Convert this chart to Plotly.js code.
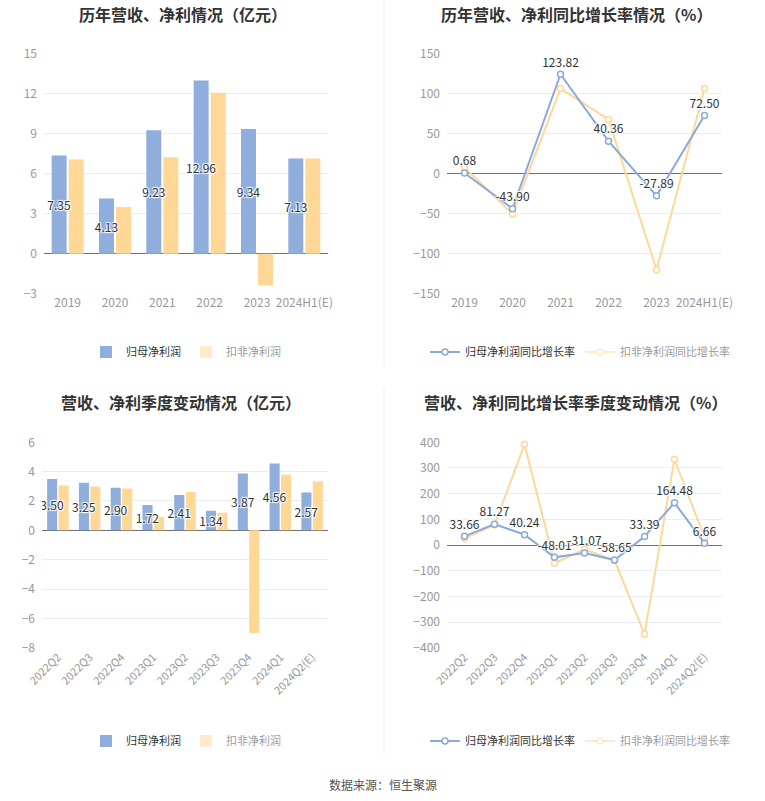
<!DOCTYPE html>
<html>
<head>
<meta charset="utf-8">
<script src="https://cdn.plot.ly/plotly-3.0.1.min.js"></script>
<style>html,body{margin:0;padding:0;background:#fff;}#chart{width:765px;height:801px;}</style>
</head>
<body>
<div id="chart"></div>
<script>
// ---- data ----
const yearCats = ['2019', '2020', '2021', '2022', '2023', '2024H1(E)'];
const yearNetProfit = [7.35, 4.13, 9.23, 12.96, 9.34, 7.13];          // 归母净利润 (亿元)
const yearDeductedProfit = [7.05, 3.49, 7.21, 12.04, -2.39, 7.12];     // 扣非净利润 (亿元)
const yearNetGrowth = [0.68, -43.90, 123.82, 40.36, -27.89, 72.50];     // 归母净利润同比增长率 (%)
const yearDeductedGrowth = [7.5, -50.5, 106, 67.5, -120, 106];          // 扣非净利润同比增长率 (%)

const quarterCats = ['2022Q2', '2022Q3', '2022Q4', '2023Q1', '2023Q2', '2023Q3', '2023Q4', '2024Q1', '2024Q2(E)'];
const quarterNetProfit = [3.50, 3.25, 2.90, 1.72, 2.41, 1.34, 3.87, 4.56, 2.57];
const quarterDeductedProfit = [3.06, 2.99, 2.85, 0.92, 2.61, 1.19, -7.0, 3.78, 3.35];
const quarterNetGrowth = [33.66, 81.27, 40.24, -48.01, -31.07, -58.65, 33.39, 164.48, 6.66];
const quarterDeductedGrowth = [26, 78, 392, -71, -17, -60, -347, 334, 29];

const names = { net: '归母净利润', ded: '扣非净利润', netG: '归母净利润同比增长率', dedG: '扣非净利润同比增长率' };
const titles = ['历年营收、净利情况（亿元）', '历年营收、净利同比增长率情况（%）', '营收、净利季度变动情况（亿元）', '营收、净利同比增长率季度变动情况（%）'];
const source = '数据来源：恒生聚源';

// ---- style ----
const W = 765, H = 801;
const BLUE = '#8FAEDC', ORANGE = '#FFD898';
const LBLUE = '#8AAAD9', LORANGE = '#FFD899';
const FONT = 'Noto Sans CJK SC, Microsoft YaHei, sans-serif';
const GRID = '#E9EDF5', AXIS = '#6E7079', TICKC = '#999999';
const fx = p => p / W, fy = p => 1 - p / H;

const dom = {
  TLx: [fx(44), fx(328)], TRx: [fx(447), fx(722)], BLx: [fx(42), fx(328)], BRx: [fx(447), fx(722)],
  topY: [fy(293.7), fy(53.3)], botY: [fy(647.7), fy(442.3)]
};
const ranges = { TL: [-3, 15], TR: [-150, 150], BL: [-8, 6], BR: [-400, 400] };
const dticks = { TL: 3, TR: 50, BL: 2, BR: 100 };

const labelFont = { family: FONT, size: 12, color: '#333', shadow: '1px 1px 1px #fff, -1px -1px 1px #fff, 1px -1px 1px #fff, -1px 1px 1px #fff' };

function barPair(cats, a, b, xa, ya, lg) {
  return [
    { type: 'bar', x: cats, y: a, xaxis: xa, yaxis: ya, name: names.net, legend: lg, marker: { color: BLUE }, zorder: 2,
      texttemplate: '%{y:.2f}', textposition: 'inside', insidetextanchor: 'middle', constraintext: 'none', textangle: 0,
      textfont: labelFont, cliponaxis: false },
    { type: 'bar', x: cats, y: b, xaxis: xa, yaxis: ya, name: names.ded, legend: lg, showlegend: false, marker: { color: ORANGE }, zorder: 1 },
    { type: 'bar', x: [null], y: [null], xaxis: xa, yaxis: ya, name: names.ded, legend: lg, visible: 'legendonly', marker: { color: ORANGE } }
  ];
}
function linePair(cats, a, b, xa, ya, lg) {
  const mk = c => ({ symbol: 'circle', size: 6, color: '#fff', line: { color: c, width: 1.5 } });
  return [
    { type: 'scatter', mode: 'lines+markers', x: cats, y: b, xaxis: xa, yaxis: ya, name: names.dedG, legend: lg, showlegend: false,
      line: { color: LORANGE, width: 2 }, marker: mk(LORANGE), cliponaxis: false },
    { type: 'scatter', mode: 'lines+markers+text', x: cats, y: a, xaxis: xa, yaxis: ya, name: names.netG, legend: lg, legendrank: 1,
      line: { color: LBLUE, width: 2 }, marker: mk(LBLUE), texttemplate: '%{y:.2f}', textposition: 'top center',
      textfont: labelFont, cliponaxis: false },
    { type: 'scatter', mode: 'lines+markers', x: [null], y: [null], xaxis: xa, yaxis: ya, name: names.dedG, legend: lg, legendrank: 2,
      visible: 'legendonly', line: { color: LORANGE, width: 2 }, marker: mk(LORANGE) }
  ];
}

const data = [].concat(
  barPair(yearCats, yearNetProfit, yearDeductedProfit, 'x', 'y', 'legend'),
  linePair(yearCats, yearNetGrowth, yearDeductedGrowth, 'x2', 'y2', 'legend2'),
  barPair(quarterCats, quarterNetProfit, quarterDeductedProfit, 'x3', 'y3', 'legend3'),
  linePair(quarterCats, quarterNetGrowth, quarterDeductedGrowth, 'x4', 'y4', 'legend4')
);

const tickFont = { family: FONT, size: 12, color: TICKC };
const rotFont = { family: FONT, size: 11, color: TICKC };
function xAx(domain, anchor, angle) {
  return { domain, anchor, type: 'category', showgrid: false, zeroline: false, showline: false, ticks: '',
    tickfont: angle ? rotFont : tickFont, tickangle: angle, fixedrange: true, automargin: false };
}
function yAx(domain, anchor, key) {
  return { domain, anchor, range: ranges[key], dtick: dticks[key], tick0: 0, showgrid: true, gridcolor: GRID, gridwidth: 1,
    zeroline: true, zerolinecolor: AXIS, zerolinewidth: 1, showline: false, ticks: '', ticklabelstandoff: 6,
    tickfont: tickFont, fixedrange: true, automargin: false };
}
function zeroTickAx(over, ydom, key, n) {
  const r = ranges[key];
  const pos = ydom[0] + (0 - r[0]) / (r[1] - r[0]) * (ydom[1] - ydom[0]);
  return { overlaying: over, anchor: 'free', position: pos, type: 'linear', range: [-0.5, n - 0.5],
    tickvals: Array.from({ length: n }, (_, i) => i), ticks: 'outside', ticklen: 5, tickwidth: 1, tickcolor: AXIS,
    showticklabels: false, showgrid: false, zeroline: false, showline: false, fixedrange: true };
}

function legendAt(xc, yc) {
  return { orientation: 'h', x: xc, y: yc, xanchor: 'center', yanchor: 'middle', itemwidth: 30,
    font: { family: FONT, size: 11, color: '#333' }, bgcolor: 'rgba(0,0,0,0)', itemclick: false, itemdoubleclick: false };
}

const titleFont = { family: FONT, size: 16, color: '#333', weight: 'bold' };
const layout = {
  width: W, height: H, margin: { l: 0, r: 0, t: 0, b: 0 }, paper_bgcolor: '#fff', plot_bgcolor: '#fff',
  font: { family: FONT }, barmode: 'group', bargap: 0.28, bargroupgap: 0.12, hovermode: false,
  xaxis: xAx(dom.TLx, 'y', 0), yaxis: yAx(dom.topY, 'x', 'TL'),
  xaxis2: xAx(dom.TRx, 'y2', 0), yaxis2: yAx(dom.topY, 'x2', 'TR'),
  xaxis3: xAx(dom.BLx, 'y3', -45), yaxis3: yAx(dom.botY, 'x3', 'BL'),
  xaxis4: xAx(dom.BRx, 'y4', -45), yaxis4: yAx(dom.botY, 'x4', 'BR'),
  xaxis5: zeroTickAx('x', dom.topY, 'TL', yearCats.length),
  xaxis6: zeroTickAx('x2', dom.topY, 'TR', yearCats.length),
  xaxis7: zeroTickAx('x3', dom.botY, 'BL', quarterCats.length),
  xaxis8: zeroTickAx('x4', dom.botY, 'BR', quarterCats.length),
  legend: legendAt(fx(186), fy(352)), legend2: legendAt(fx(580), fy(352)),
  legend3: legendAt(fx(186), fy(741)), legend4: legendAt(fx(580), fy(741)),
  annotations: [
    { text: titles[0], x: fx(183), y: fy(14), xref: 'paper', yref: 'paper', showarrow: false, font: titleFont, xanchor: 'center', yanchor: 'middle' },
    { text: titles[1], x: fx(576), y: fy(14), xref: 'paper', yref: 'paper', showarrow: false, font: titleFont, xanchor: 'center', yanchor: 'middle' },
    { text: titles[2], x: fx(181), y: fy(402), xref: 'paper', yref: 'paper', showarrow: false, font: titleFont, xanchor: 'center', yanchor: 'middle' },
    { text: titles[3], x: fx(575), y: fy(402), xref: 'paper', yref: 'paper', showarrow: false, font: titleFont, xanchor: 'center', yanchor: 'middle' },
    { text: source, x: fx(383), y: fy(784), xref: 'paper', yref: 'paper', showarrow: false, font: { family: FONT, size: 12, color: '#555' }, xanchor: 'center', yanchor: 'middle' }
  ],
  shapes: [
    { type: 'line', xref: 'paper', yref: 'paper', x0: fx(384), x1: fx(384), y0: fy(0), y1: fy(366), line: { color: '#EEEEEE', width: 1 } },
    { type: 'line', xref: 'paper', yref: 'paper', x0: fx(384), x1: fx(384), y0: fy(388), y1: fy(755), line: { color: '#EEEEEE', width: 1 } }
  ]
};

Plotly.newPlot('chart', data, layout, { displayModeBar: false, staticPlot: true });
</script>
</body>
</html>
